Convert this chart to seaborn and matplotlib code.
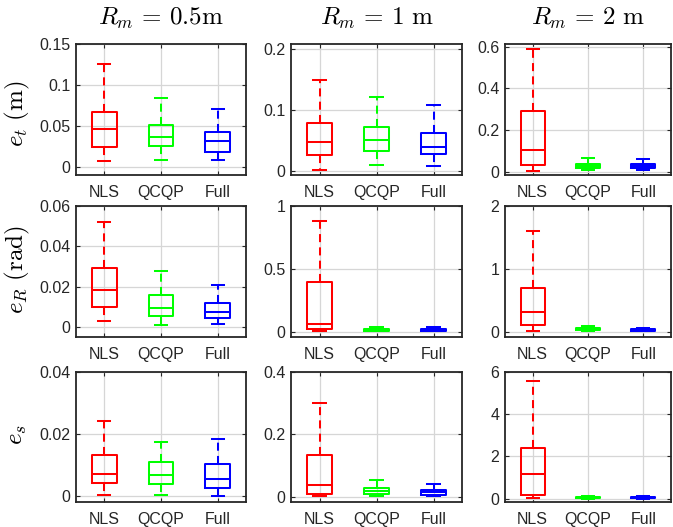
import numpy as np
import pandas as pd
import matplotlib
matplotlib.use("Agg")
import matplotlib.pyplot as plt
import seaborn as sns
from matplotlib.ticker import FuncFormatter, FixedLocator

# ---------------- data ----------------
methods = ["NLS", "QCQP", "Full"]
palette = ["#ff0000", "#00ff00", "#0000ff"]
col_titles = [r"$R_m\,=\,0.5\mathrm{m}$", r"$R_m\,=\,1\ \mathrm{m}$", r"$R_m\,=\,2\ \mathrm{m}$"]
row_labels = [r"$e_t\ (\mathrm{m})$", r"$e_R\ (\mathrm{rad})$", r"$e_s$"]

# five-number summaries per method: [min, q1, median, q3, max]
et_r05 = [[0.0072, 0.0241, 0.0462, 0.0667, 0.126],
          [0.0088, 0.0253, 0.0366, 0.0510, 0.084],
          [0.0092, 0.0185, 0.0314, 0.0422, 0.0712]]
et_r1 = [[0.0017, 0.0266, 0.0470, 0.0780, 0.150],
         [0.0102, 0.0323, 0.0500, 0.0725, 0.121],
         [0.0085, 0.0283, 0.0397, 0.0623, 0.108]]
et_r2 = [[0.005, 0.0306, 0.106, 0.290, 0.590],
         [0.008, 0.019, 0.029, 0.0386, 0.066],
         [0.006, 0.019, 0.029, 0.037, 0.0595]]
eR_r05 = [[0.0031, 0.0102, 0.0185, 0.0292, 0.0519],
          [0.0012, 0.0056, 0.0094, 0.0160, 0.0277],
          [0.0016, 0.0045, 0.0076, 0.0122, 0.0208]]
eR_r1 = [[0.005, 0.019, 0.061, 0.392, 0.883],
         [0.002, 0.008, 0.013, 0.021, 0.035],
         [0.002, 0.008, 0.016, 0.024, 0.037]]
eR_r2 = [[0.016, 0.107, 0.306, 0.700, 1.60],
         [0.005, 0.021, 0.043, 0.059, 0.096],
         [0.010, 0.016, 0.032, 0.043, 0.064]]
es_r05 = [[0.0002, 0.0040, 0.0072, 0.0131, 0.0242],
          [0.0002, 0.0039, 0.0066, 0.0108, 0.0175],
          [0.0000, 0.0025, 0.0053, 0.0102, 0.0184]]
es_r1 = [[0.002, 0.0086, 0.0367, 0.135, 0.300],
         [0.001, 0.0075, 0.0172, 0.027, 0.0528],
         [0.001, 0.0065, 0.014, 0.0205, 0.041]]
es_r2 = [[0.016, 0.19, 1.16, 2.38, 5.55],
         [0.003, 0.016, 0.05, 0.08, 0.127],
         [0.003, 0.016, 0.045, 0.063, 0.11]]

panels = [[et_r05, et_r1, et_r2],
          [eR_r05, eR_r1, eR_r2],
          [es_r05, es_r1, es_r2]]

yticks = [[[0, 0.05, 0.1, 0.15], [0, 0.1, 0.2], [0, 0.2, 0.4, 0.6]],
          [[0, 0.02, 0.04, 0.06], [0, 0.5, 1], [0, 1, 2]],
          [[0, 0.02, 0.04], [0, 0.2, 0.4], [0, 2, 4, 6]]]
ylims = [[(-0.0096, 0.15), (-0.007, 0.209), (-0.016, 0.614)],
         [(-0.0048, 0.06), (-0.042, 1.0), (-0.085, 2.0)],
         [(-0.002, 0.04), (-0.017, 0.4), (-0.16, 6.0)]]

# ---------------- style ----------------
plt.rcParams["font.family"] = ["Liberation Sans", "DejaVu Sans"]
plt.rcParams["mathtext.fontset"] = "cm"
dark = "#262626"

W, H = 673, 527
fig = plt.figure(figsize=(W / 100, H / 100), dpi=100)

col_left = [76, 291, 505]
col_w = [170, 171, 166]
row_top = [44, 206, 372]
row_bot = [175, 337, 502]

for r in range(3):
    for c in range(3):
        x0 = col_left[c] / W
        y0 = 1 - row_bot[r] / H
        ax = fig.add_axes([x0, y0, col_w[c] / W, (row_bot[r] - row_top[r]) / H])
        stats = panels[r][c]
        df = pd.DataFrame({
            "method": [m for m, s in zip(methods, stats) for _ in s],
            "value": [v for s in stats for v in s],
        })
        sns.boxplot(data=df, x="method", y="value", hue="method",
                    order=methods, hue_order=methods, palette=palette,
                    fill=False, whis=(0, 100), width=0.43, linewidth=1.45,
                    showfliers=False, legend=False, ax=ax,
                    whiskerprops=dict(linestyle=(0, (4, 2.6))))
        ax.set_xlim(-0.5, 2.5)
        ax.set_ylim(*ylims[r][c])
        ax.yaxis.set_major_locator(FixedLocator(yticks[r][c]))
        ax.yaxis.set_major_formatter(FuncFormatter(lambda v, p: "%g" % v))
        ax.set_xlabel("")
        ax.set_ylabel("")
        ax.grid(True, color="#d6d6d6", linewidth=0.9)
        ax.set_axisbelow(True)
        for s in ax.spines.values():
            s.set_color(dark)
            s.set_linewidth(1.3)
        ax.tick_params(axis="both", direction="in", length=3, width=0.8,
                       colors=dark, labelsize=11.5, top=True, right=True)
        ax.tick_params(axis="x", pad=7)
        ax.tick_params(axis="y", pad=4)

title_y = 1 - 18 / H
for c in range(3):
    cx = (col_left[c] + col_w[c] / 2) / W
    fig.text(cx, title_y, col_titles[c], ha="center", va="center", fontsize=18, color="black")

label_y = [114, 270, 435]
for r in range(3):
    fig.text(17 / W, 1 - label_y[r] / H, row_labels[r], rotation=90,
             ha="center", va="center", fontsize=18, color="black")

fig.savefig("out.png", dpi=100, facecolor="white")
